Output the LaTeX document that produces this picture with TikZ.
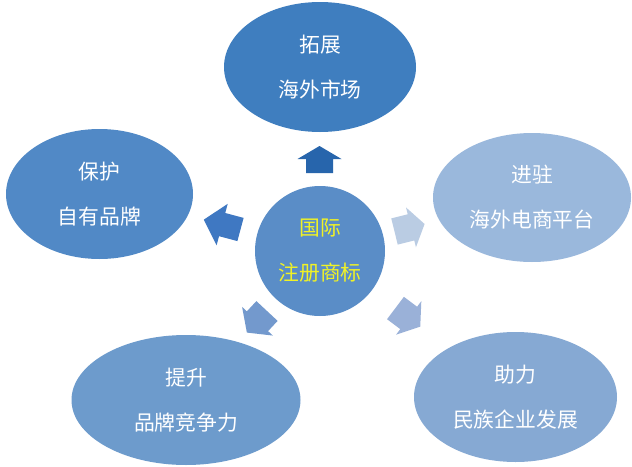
\documentclass[tikz,border=0pt]{standalone}
\usepackage{fontspec}
\newfontfamily\cjk{Noto Sans CJK SC}
\usetikzlibrary{shapes.geometric}
\definecolor{cTop}{HTML}{3F7EBF}
\definecolor{cLeft}{HTML}{5189C6}
\definecolor{cCenter}{HTML}{5A8DC7}
\definecolor{cRight}{HTML}{9AB8DC}
\definecolor{cBL}{HTML}{6D9BCC}
\definecolor{cBR}{HTML}{86A9D3}
\definecolor{aTop}{HTML}{2765AC}
\definecolor{aLeft}{HTML}{3F78C2}
\definecolor{aRight}{HTML}{BACCE3}
\definecolor{aBL}{HTML}{7399CD}
\definecolor{aBR}{HTML}{9AB1D8}
\definecolor{cYellow}{HTML}{F0F226}
\newcommand\myblockarrow[8]{%
  \fill[#8, shift={(#1,#2)}, rotate=#3]
    (0,-#6/2) -- (#4,-#6/2) -- (#4,-#7/2) -- (#4+#5,0) -- (#4,#7/2) -- (#4,#6/2) -- (0,#6/2) -- cycle;}
\tikzset{
  bubble/.style={ellipse, inner sep=0pt, draw=none, text=white,
    font=\cjk\fontsize{20.8}{45}\selectfont, align=center},
}
\begin{document}
\begin{tikzpicture}[x=1pt,y=1pt]
\fill[white] (0,0) rectangle (632,-466);
\useasboundingbox (0,0) rectangle (632,-466);
\node[bubble, fill=cTop, minimum width=192pt, minimum height=130pt] (top) at (320,-67) {拓展\\海外市场};
\node[bubble, fill=cLeft, minimum width=187pt, minimum height=130pt] (left) at (99.5,-194) {保护\\自有品牌};
\node[bubble, fill=cRight, minimum width=198pt, minimum height=129pt] (right) at (532,-197.5) {进驻\\海外电商平台};
\node[bubble, fill=cBL, minimum width=229pt, minimum height=130pt] (bl) at (186,-400) {提升\\品牌竞争力};
\node[bubble, fill=cBR, minimum width=203pt, minimum height=130pt] (br) at (515.5,-397) {助力\\民族企业发展};
\node[bubble, circle, fill=cCenter, text=cYellow, minimum size=130pt] (center) at (320,-251) {国际\\注册商标};
\myblockarrow{319.5}{-173}{90}{14}{13}{27}{44}{aTop}
\myblockarrow{240.5}{-229.5}{165}{19}{19}{24}{43}{aLeft}
\myblockarrow{394.5}{-231.5}{14}{17}{14}{27}{41}{aRight}
\myblockarrow{267}{-311}{227}{14}{15.5}{29}{42}{aBL}
\myblockarrow{395.5}{-308}{-37}{16.5}{14.5}{28}{42}{aBR}
\end{tikzpicture}
\end{document}
